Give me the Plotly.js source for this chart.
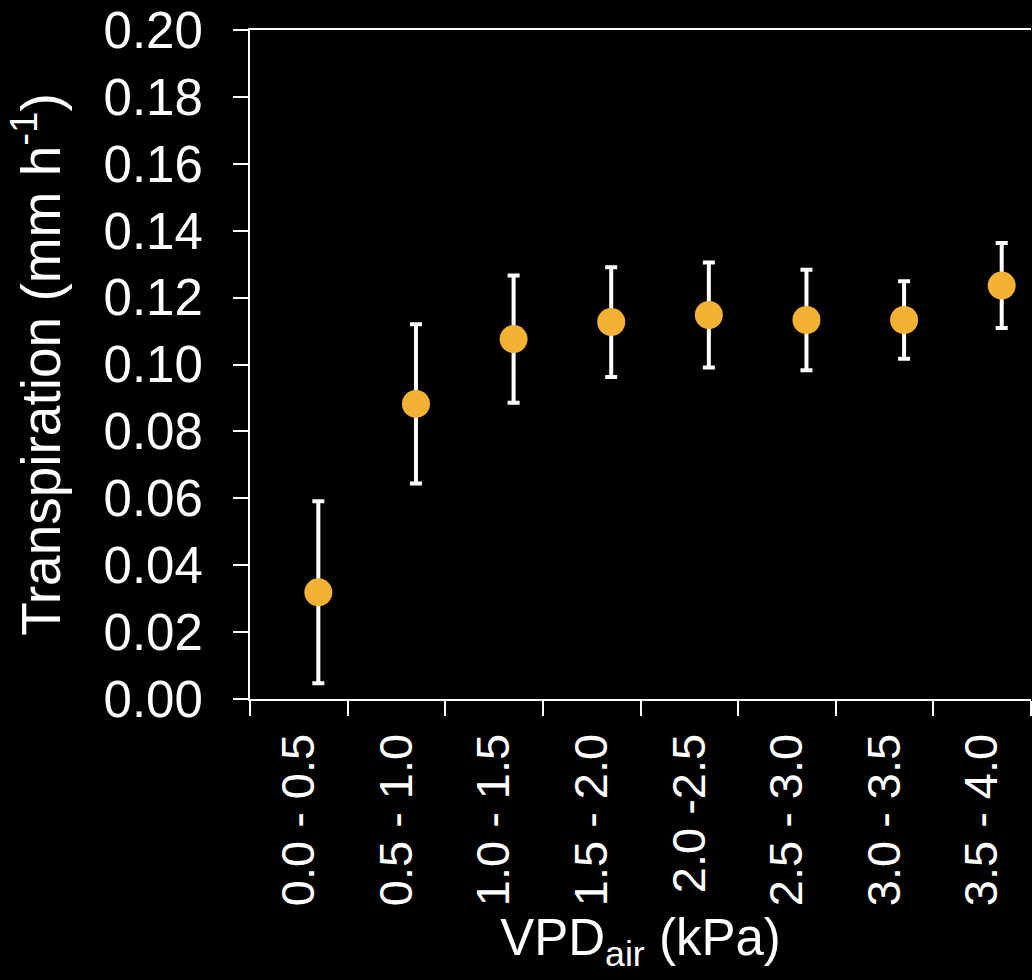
<!DOCTYPE html>
<html>
<head>
<meta charset="utf-8">
<script src="https://cdn.plot.ly/plotly-3.0.1.min.js"></script>
<style>html,body{margin:0;padding:0;background:#000;}#chart{width:1032px;height:980px;}</style>
</head>
<body>
<div id="chart"></div>
<script>
// VPD bin labels and bin edges (kPa)
const binLabels = ["0.0 - 0.5", "0.5 - 1.0", "1.0 - 1.5", "1.5 - 2.0", "2.0 -2.5", "2.5 - 3.0", "3.0 - 3.5", "3.5 - 4.0"];
const binCenters = [0.25, 0.75, 1.25, 1.75, 2.25, 2.75, 3.25, 3.75];
const binEdges = [0, 0.5, 1.0, 1.5, 2.0, 2.5, 3.0, 3.5, 4.0];
// mean VPD of each bin (point positions) and transpiration (mm h-1)
const vpdMean = [0.35, 0.85, 1.35, 1.85, 2.35, 2.85, 3.35, 3.85];
const transpiration = [0.0319, 0.0882, 0.1076, 0.1127, 0.1148, 0.1133, 0.1133, 0.1236];
const transpErr = [0.0272, 0.0238, 0.0190, 0.0164, 0.0157, 0.0150, 0.0116, 0.0127];
const yTicks = [0, 0.02, 0.04, 0.06, 0.08, 0.10, 0.12, 0.14, 0.16, 0.18, 0.20];

const font = "Liberation Sans, Arial, sans-serif";

const trace = {
  x: vpdMean,
  y: transpiration,
  type: "scatter",
  mode: "markers",
  marker: {size: 28, color: "#F3B234", line: {width: 0}},
  error_y: {type: "data", array: transpErr, visible: true, color: "#FFFFFF", thickness: 4, width: 6},
  hoverinfo: "skip",
  showlegend: false
};

const layout = {
  width: 1032,
  height: 980,
  paper_bgcolor: "#000000",
  plot_bgcolor: "#000000",
  margin: {l: 250, r: 1, t: 30, b: 281, pad: 0},
  font: {family: font, color: "#FFFFFF"},
  xaxis: {
    range: [0, 4],
    showgrid: false,
    zeroline: false,
    showline: true,
    linecolor: "#FFFFFF",
    linewidth: 2,
    mirror: true,
    tickmode: "array",
    tickvals: binCenters,
    ticktext: binLabels,
    ticks: "",
    tickangle: -90,
    tickfont: {family: font, size: 47, color: "#FFFFFF"},
    ticklabelstandoff: 14,
    minor: {tickmode: "array", tickvals: binEdges, ticks: "outside", ticklen: 15, tickwidth: 2, tickcolor: "#FFFFFF", showgrid: false},
    title: {text: "VPD<sub>air</sub> (kPa)", font: {family: font, size: 51, color: "#FFFFFF"}, standoff: 14},
    automargin: false
  },
  yaxis: {
    range: [0, 0.2],
    showgrid: false,
    zeroline: false,
    showline: true,
    linecolor: "#FFFFFF",
    linewidth: 2,
    tickmode: "array",
    tickvals: yTicks,
    tickformat: ".2f",
    ticks: "outside",
    ticklen: 15,
    tickwidth: 2,
    tickcolor: "#FFFFFF",
    tickfont: {family: font, size: 51, color: "#FFFFFF"},
    ticklabelstandoff: 20,
    title: {text: "Transpiration (mm h<sup>-1</sup>)", font: {family: font, size: 55, color: "#FFFFFF"}, standoff: 25},
    automargin: false
  }
};

Plotly.newPlot("chart", [trace], layout, {displayModeBar: false, staticPlot: true});
</script>
</body>
</html>
